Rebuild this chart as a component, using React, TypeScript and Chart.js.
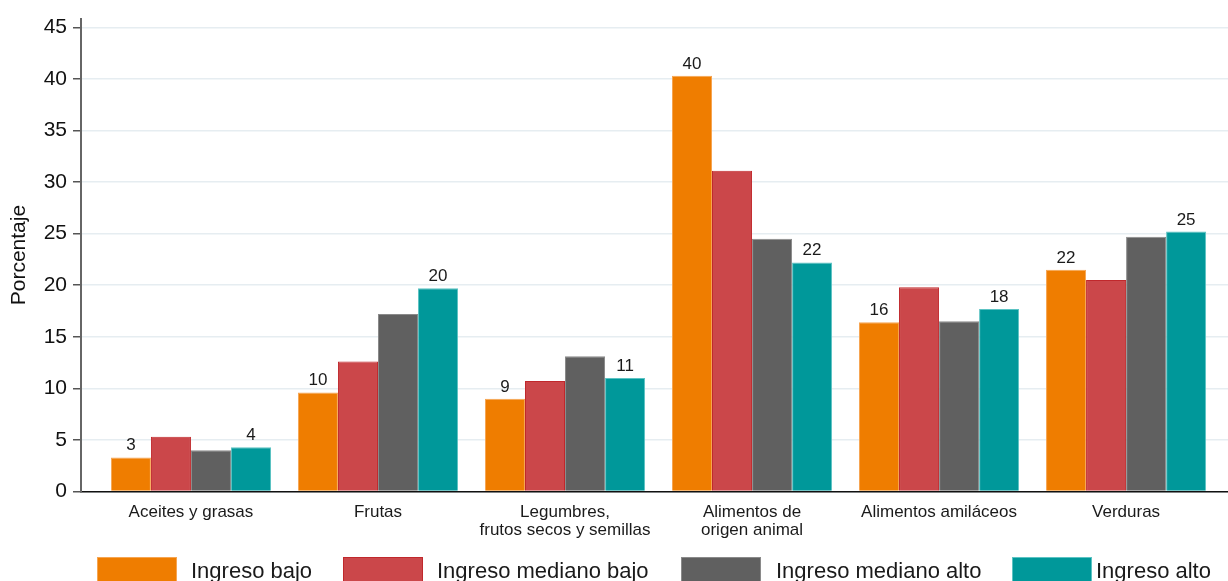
import React, { useEffect, useRef } from "react";
import { Chart, registerables } from "chart.js";

Chart.register(...registerables);

const categories: string[][] = [
  ["Aceites y grasas"],
  ["Frutas"],
  ["Legumbres,", "frutos secos y semillas"],
  ["Alimentos de", "origen animal"],
  ["Alimentos amiláceos"],
  ["Verduras"],
];
const seriesNames = ["Ingreso bajo", "Ingreso mediano bajo", "Ingreso mediano alto", "Ingreso alto"];
const ingresoBajo = [3.3, 9.6, 9.0, 40.3, 16.4, 21.5];
const ingresoMedianoBajo = [5.3, 12.6, 10.7, 31.1, 19.8, 20.5];
const ingresoMedianoAlto = [4.0, 17.2, 13.1, 24.5, 16.5, 24.7];
const ingresoAlto = [4.3, 19.7, 11.0, 22.2, 17.7, 25.2];
const yTicks = [0, 5, 10, 15, 20, 25, 30, 35, 40, 45];
const labeledSeries = [0, 3];

const fills = ["#EF7D00", "#CB474A", "#606060", "#00989A"];
const borders = ["#F6A552", "#C0282C", "#8A8A8A", "#5CC3C3"];

const FONT = "'Liberation Sans', Arial, Helvetica, sans-serif";

export default function App() {
  const ref = useRef<HTMLCanvasElement | null>(null);

  useEffect(() => {
    document.body.style.margin = "0";
    const canvas = ref.current;
    if (!canvas) return;
    const series = [ingresoBajo, ingresoMedianoBajo, ingresoMedianoAlto, ingresoAlto];

    const dataLabelPlugin = {
      id: "dataLabels",
      afterDatasetsDraw(chart: any) {
        const ctx = chart.ctx;
        ctx.save();
        ctx.font = `17px ${FONT}`;
        ctx.fillStyle = "#1a1a1a";
        ctx.textAlign = "center";
        ctx.textBaseline = "alphabetic";
        labeledSeries.forEach((di) => {
          const meta = chart.getDatasetMeta(di);
          meta.data.forEach((el: any, i: number) => {
            const v = series[di][i];
            ctx.fillText(String(Math.round(v)), el.x, el.y - 7);
          });
        });
        ctx.restore();
      },
    };

    const legendBoxX = [97, 343, 681, 1012];
    const legendTextX = [191, 437, 776, 1096];
    const legendPlugin = {
      id: "customLegend",
      afterDraw(chart: any) {
        const ctx = chart.ctx;
        ctx.save();
        ctx.font = `22px ${FONT}`;
        ctx.textAlign = "left";
        ctx.textBaseline = "alphabetic";
        seriesNames.forEach((name, i) => {
          ctx.fillStyle = fills[i];
          ctx.fillRect(legendBoxX[i], 557, 80, 30);
          ctx.strokeStyle = borders[i];
          ctx.lineWidth = 1;
          ctx.strokeRect(legendBoxX[i] + 0.5, 557.5, 79, 30);
          ctx.fillStyle = "#1a1a1a";
          ctx.fillText(name, legendTextX[i], 578);
        });
        ctx.restore();
      },
    };

    const chart = new Chart(canvas, {
      type: "bar",
      data: {
        datasets: series.map((vals, di) => ({
          label: seriesNames[di],
          data: vals.map((v, i) => ({ x: i, y: v })),
          backgroundColor: fills[di],
          borderColor: borders[di],
          borderWidth: 1,
          categoryPercentage: 0.856,
          barPercentage: 1.0,
        })),
      },
      options: {
        responsive: false,
        animation: false,
        devicePixelRatio: 1,
        layout: { padding: { top: 0, left: 0, right: 0, bottom: 0 } },
        plugins: {
          legend: { display: false },
          tooltip: { enabled: false },
        },
        scales: {
          x: {
            type: "linear",
            offset: false,
            min: -0.588,
            max: 5.545,
            afterBuildTicks: (scale: any) => {
              scale.ticks = categories.map((_, i) => ({ value: i }));
            },
            afterFit: (scale: any) => {
              scale.height = 89.5;
            },
            grid: { display: false, drawTicks: false, offset: false },
            border: { display: true, color: "#111111", width: 1.5 },
            ticks: {
              autoSkip: false,
              maxRotation: 0,
              minRotation: 0,
              padding: 12,
              color: "#1a1a1a",
              font: { family: FONT, size: 17, lineHeight: 1.05 },
              callback: (v: any) => categories[v as number] ?? "",
            },
          },
          y: {
            min: 0,
            max: 45.84,
            afterBuildTicks: (scale: any) => {
              scale.ticks = yTicks.map((v) => ({ value: v }));
            },
            afterFit: (scale: any) => {
              scale.width = 81;
            },
            grid: {
              color: "#E6EDF1",
              lineWidth: 1.5,
              drawTicks: true,
              tickLength: 8,
              tickColor: "#555555",
              tickWidth: 1.5,
            },
            border: { display: true, color: "#666666", width: 2 },
            ticks: {
              padding: 6,
              color: "#111111",
              font: { family: FONT, size: 21 },
            },
            title: {
              display: true,
              text: "Porcentaje",
              color: "#111111",
              font: { family: FONT, size: 21 },
              padding: { top: 7, bottom: 0 },
            },
          },
        },
      },
      plugins: [dataLabelPlugin, legendPlugin],
    } as any);

    return () => chart.destroy();
  }, []);

  return (
    <div style={{ width: 1228, height: 581, position: "relative" }}>
      <canvas ref={ref} width={1228} height={581} style={{ display: "block" }} />
    </div>
  );
}
